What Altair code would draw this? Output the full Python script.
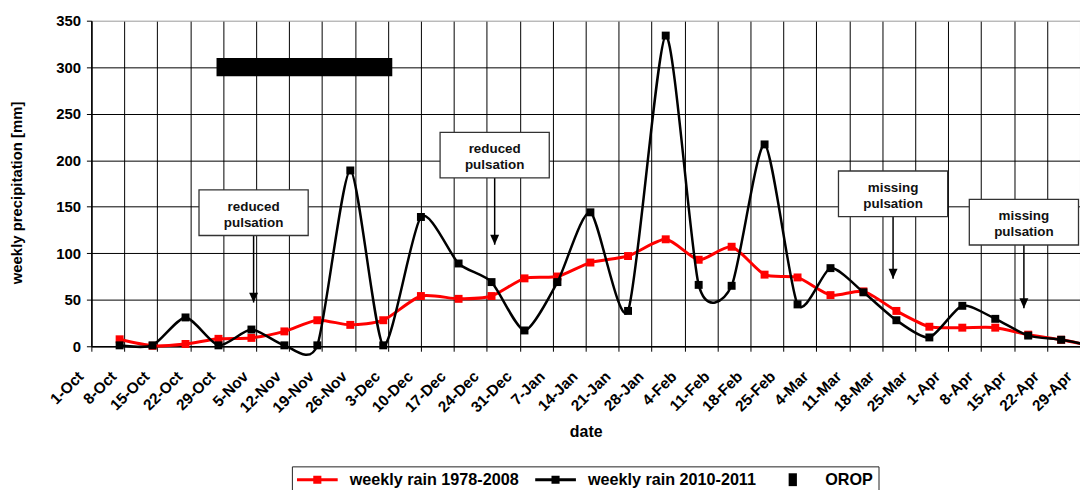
import altair as alt
import pandas as pd

# ---------------- data ----------------
dates = [
    "2010-10-07", "2010-10-14", "2010-10-21", "2010-10-28", "2010-11-04",
    "2010-11-11", "2010-11-18", "2010-11-25", "2010-12-02", "2010-12-10",
    "2010-12-18", "2010-12-25", "2011-01-01", "2011-01-08", "2011-01-15",
    "2011-01-23", "2011-01-31", "2011-02-07", "2011-02-14", "2011-02-21",
    "2011-02-28", "2011-03-07", "2011-03-14", "2011-03-21", "2011-03-28",
    "2011-04-04", "2011-04-11", "2011-04-18", "2011-04-25", "2011-05-02",
]
rain_1978_2008 = [
    7.5, 0.5, 2.5, 8, 9, 16, 28, 23, 28, 54,
    51, 54, 73, 75, 90, 97, 115, 93, 107, 77,
    74, 55, 59, 38, 21, 20, 20, 12.5, 7, 0,
]
rain_2010_2011 = [
    1, 1, 31, 1, 18, 1, 1, 189, 1, 139,
    89, 69, 17, 69, 144, 38, 334, 66, 65, 217,
    45, 84, 58, 28, 9.5, 43.5, 29.5, 11.5, 7, 0,
]

tick_dates = [
    "2010-10-01", "2010-10-08", "2010-10-15", "2010-10-22", "2010-10-29",
    "2010-11-05", "2010-11-12", "2010-11-19", "2010-11-26",
    "2010-12-03", "2010-12-10", "2010-12-17", "2010-12-24", "2010-12-31",
    "2011-01-07", "2011-01-14", "2011-01-21", "2011-01-28",
    "2011-02-04", "2011-02-11", "2011-02-18", "2011-02-25",
    "2011-03-04", "2011-03-11", "2011-03-18", "2011-03-25",
    "2011-04-01", "2011-04-08", "2011-04-15", "2011-04-22", "2011-04-29",
]
y_ticks = [0, 50, 100, 150, 200, 250, 300, 350]

orop_start = ["2010-10-27T14:00:00"]
orop_end = ["2010-12-03T22:00:00"]
orop_level = [300]

ann_dates = ["2010-11-04T11:00:00", "2010-12-25T16:00:00",
             "2011-03-20T07:00:00", "2011-04-17T02:00:00"]
ann_box_value = [143.6, 205.5, 163.9, 133.4]
ann_tip_value = [47.0, 109.2, 72.6, 40.9]
ann_text = ["reduced\npulsation", "reduced\npulsation",
            "missing\npulsation", "missing\npulsation"]

series_names = ["weekly rain 1978-2008", "weekly rain 2010-2011", "OROP"]
series_colors = ["#ff0000", "#000000", "#000000"]

# ---------------- tables ----------------
def ts(s):
    return s if "T" in s else s + "T00:00:00"

def dt(s):
    y, m, d = [int(v) for v in s.split("-")]
    return alt.DateTime(year=y, month=m, date=d)

rain_df = pd.DataFrame({
    "date": [ts(d) for d in dates],
    "r1978": rain_1978_2008,
    "r2010": rain_2010_2011,
})
orop_df = pd.DataFrame({"start": orop_start, "end": orop_end, "level": orop_level})
ann_df = pd.DataFrame({
    "date": ann_dates, "box": ann_box_value, "tip": ann_tip_value, "text": ann_text,
})
legend_df = pd.DataFrame({"series": series_names})

FONT = "Liberation Sans"
W, H = 996, 328

x_scale = alt.Scale(domain=[dt(tick_dates[0]), dt(tick_dates[-1])])
y_scale = alt.Scale(domain=[0, 350], nice=False, zero=False)

x_axis = alt.Axis(
    values=[dt(s) for s in tick_dates], format="%-d-%b", formatType="time",
    labelAngle=315, labelAlign="right", labelBaseline="top",
    labelOffset=-16, labelPadding=17.5, labelFont=FONT, labelFontSize=15.5,
    labelFontWeight="bold", labelColor="#000000", labelOverlap=False,
    labelFlush=False, labelBound=False,
    tickSize=5, tickColor="#000000", tickWidth=1,
    domainColor="#000000", domainWidth=1.5,
    grid=True, gridColor="#000000", gridWidth=1,
    title="date", titleFont=FONT, titleFontSize=16, titleFontWeight="bold",
    titleColor="#000000", titleX=W / 2, titleY=86, titleAlign="center",
    titleBaseline="middle",
)
y_axis = alt.Axis(
    values=y_ticks, labelFont=FONT, labelFontSize=15, labelFontWeight="bold",
    labelColor="#000000", labelPadding=6,
    tickSize=5, tickColor="#000000", tickWidth=1,
    domainColor="#000000", domainWidth=1.5,
    grid=True,
    gridColor={"condition": {"test": "datum.value === 350", "value": "#9a9a9a"},
               "value": "#000000"},
    gridWidth=1,
    title="weekly precipitation [mm]", titleFont=FONT, titleFontSize=15,
    titleFontWeight="bold", titleColor="#000000", titleAngle=270,
    titleX=-75, titleY=173, titleAlign="center", titleBaseline="middle",
)

X = lambda f: alt.X(f + ":T", scale=x_scale, axis=x_axis)
Y = lambda f: alt.Y(f + ":Q", scale=y_scale, axis=y_axis)

# OROP bar
orop = alt.Chart(orop_df).mark_rule(color="#000000", strokeWidth=18.4).encode(
    x=X("start"), x2="end:T", y=Y("level"),
)

# annotations
ann_base = alt.Chart(ann_df)
shafts = ann_base.mark_rule(color="#000000", strokeWidth=1.5).encode(
    x=X("date"), y=Y("box"), y2="tip:Q")
BOX = "M-1,-0.418H1V0.418H-1Z"
boxes = ann_base.mark_point(shape=BOX, size=110 * 110, filled=True, fill="#ffffff",
                            stroke="#333333", strokeWidth=1.3, opacity=1).encode(
    x=X("date"), y=Y("box"))
HEAD = "M-0.9,-2L0.9,-2L0,0Z"
heads = ann_base.mark_point(shape=HEAD, size=100, filled=True, color="#000000",
                            opacity=1).encode(x=X("date"), y=Y("tip"))
texts = ann_base.mark_text(font=FONT, fontSize=13.5, fontWeight="bold",
                           color="#111111", lineBreak="\n", lineHeight=16,
                           baseline="alphabetic", align="center", dy=-2).encode(
    x=X("date"), y=Y("box"), text="text:N")

# series
rain = alt.Chart(rain_df)
TENSION = 0.3
red_line = rain.mark_line(color="#ff0000", strokeWidth=3, interpolate="cardinal",
                          tension=TENSION).encode(x=X("date"), y=Y("r1978"))
red_pts = rain.mark_point(shape="square", size=64, filled=True, color="#ff0000",
                          opacity=1).encode(x=X("date"), y=Y("r1978"))
blk_line = rain.mark_line(color="#000000", strokeWidth=2.5, interpolate="cardinal",
                          tension=TENSION).encode(x=X("date"), y=Y("r2010"))
blk_pts = rain.mark_point(shape="square", size=64, filled=True, color="#000000",
                          opacity=1).encode(x=X("date"), y=Y("r2010"))

# legend (proxy layer, drawn outside the plot and clipped)
LINE_SYM = "M-1,-0.18H4.125V0.18H-1Z M1.05,-0.51H2.07V0.51H1.05Z"
OROP_SYM = "M1.04,-0.81H2.08V0.81H1.04Z"
leg = alt.Legend(
    title=None, orient="none", legendX=202, legendY=449, direction="horizontal",
    padding=5, strokeColor="#222222", fillColor="#ffffff",
    symbolSize=256, symbolStrokeWidth=0, labelFont=FONT, labelFontSize=16.3,
    labelFontWeight="bold", labelColor="#000000", labelOffset=37,
    columnPadding=16, labelLimit=300,
)
legend_layer = alt.Chart(legend_df).mark_point(filled=True, opacity=1, clip=True).encode(
    x=alt.value(-300), y=alt.value(-300),
    color=alt.Color("series:N", scale=alt.Scale(domain=series_names, range=series_colors),
                    legend=leg),
    shape=alt.Shape("series:N", scale=alt.Scale(domain=series_names,
                                                range=[LINE_SYM, LINE_SYM, OROP_SYM]),
                    legend=leg),
)

chart = alt.layer(
    orop, shafts, boxes, heads, texts, red_line, red_pts, blk_line, blk_pts, legend_layer
).properties(
    width=W, height=H,
    autosize=alt.AutoSizeParams(type="none"),
    padding={"left": 84, "top": 11, "right": 0, "bottom": 143},
).configure_view(stroke=None)

chart.save("out.html", embed_options={"renderer": "svg", "actions": False})
